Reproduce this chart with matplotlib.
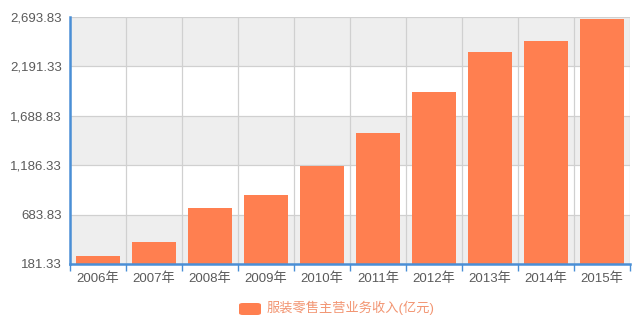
import matplotlib.pyplot as plt
import matplotlib.patches as mpatches

plt.rcParams['font.family'] = ['Liberation Sans', 'Noto Sans CJK SC']

# data
years = ['2006年', '2007年', '2008年', '2009年', '2010年',
         '2011年', '2012年', '2013年', '2014年', '2015年']
revenue = [262, 402, 751, 886, 1178, 1511, 1928, 2335, 2453, 2670]
yticks = [181.33, 683.83, 1186.33, 1688.83, 2191.33, 2693.83]
series_name = '服装零售主营业务收入(亿元)'

bar_color = '#FF7F50'
axis_blue = '#4A8FD6'

fig = plt.figure(figsize=(6.4, 3.27), dpi=100)
ax = fig.add_axes([70 / 640, 1 - 264 / 327, 560 / 640, 247 / 327])

ax.set_xlim(0, len(years))
ax.set_ylim(yticks[0], yticks[-1])

# alternating background bands
for i in range(len(yticks) - 1):
    if i % 2 == 0:
        ax.axhspan(yticks[i], yticks[i + 1], color='#EEEEEE', zorder=0, lw=0)

ax.set_yticks(yticks)
ax.set_yticklabels(['{:,.2f}'.format(v) for v in yticks])
ax.set_xticks(range(len(years) + 1))
ax.set_xticklabels([])
ax.set_xticks([i + 0.5 for i in range(len(years))], minor=True)
ax.set_xticklabels(years, minor=True)

ax.grid(True, color='#D0D0D0', lw=0.9, zorder=1)

ax.bar([i + 0.5 for i in range(len(years))], revenue, width=0.8,
       color=bar_color, zorder=2)

for s in ['top', 'right']:
    ax.spines[s].set_visible(False)
for s in ['left', 'bottom']:
    ax.spines[s].set_color(axis_blue)
    ax.spines[s].set_linewidth(1.8)
    ax.spines[s].set_zorder(3)

ax.tick_params(axis='y', length=0, pad=6, labelsize=9.5, labelcolor='#5A5A5A')
ax.tick_params(axis='x', which='major', length=5, width=1, color=axis_blue,
               direction='out')
ax.tick_params(axis='x', which='minor', length=0, pad=6, labelsize=9.5,
               labelcolor='#5A5A5A')

# legend
fig.patches.append(mpatches.FancyBboxPatch((239 / 640, 1 - 315 / 327), 22 / 640, 12 / 327,
                                           boxstyle='round,pad=0,rounding_size=0.006',
                                           transform=fig.transFigure,
                                           facecolor=bar_color, edgecolor='none'))
fig.text(267 / 640, 1 - 308 / 327, series_name, color='#F29572', fontsize=9.5,
         va='center', ha='left')

fig.savefig('out.png', dpi=100)
